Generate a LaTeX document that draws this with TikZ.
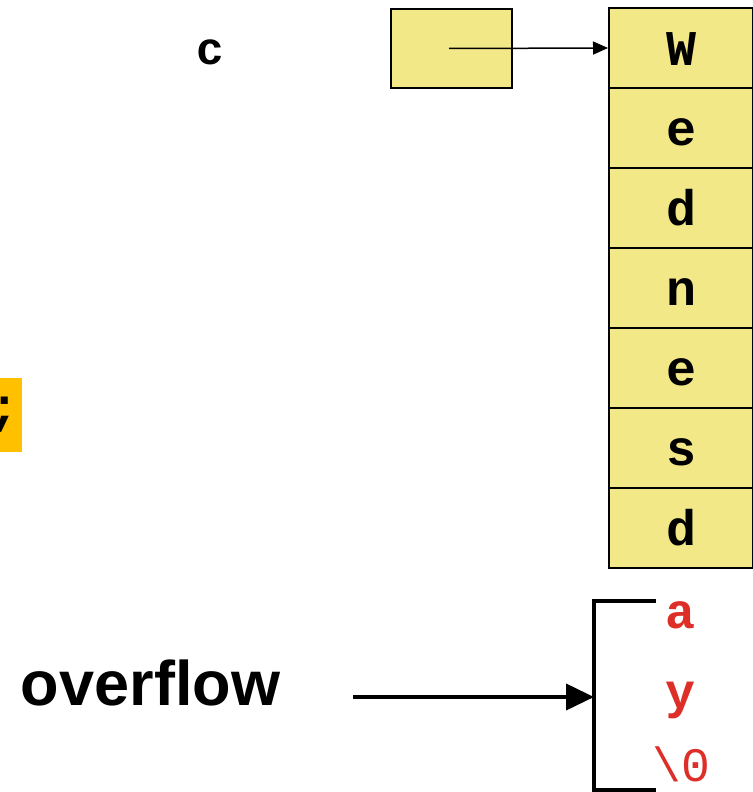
\documentclass[tikz,border=0pt]{standalone}
\usepackage{fontspec}
\setmainfont{Liberation Sans}
\setmonofont{Liberation Mono}
\usetikzlibrary{arrows.meta}

\def\charsize#1{\fontsize{#1}{#1}\selectfont}
\colorlet{cell fill}{rgb,255:red,243;green,232;blue,135}
\colorlet{spill red}{rgb,255:red,222;green,46;blue,40}
\colorlet{hilite}{rgb,255:red,255;green,192;blue,0}
\tikzset{cell/.style={draw, line width=2pt, fill=cell fill, minimum width=144,
        minimum height=80, inner sep=0pt, text height=35pt, text depth=0pt,
        font=\ttfamily\bfseries\charsize{50}},
    spill/.style={text=spill red, inner sep=0pt, anchor=base,
        font=\ttfamily\bfseries\charsize{50}},
    ptr/.style={draw, line width=2pt, fill=cell fill, minimum width=121,
        minimum height=79, inner sep=0pt}}

\begin{document}
\begin{tikzpicture}[x=1pt, y=-1pt]
     \useasboundingbox (0,0) rectangle (752,792);
     % the string in memory, one char per cell
     \foreach \ch [count=\i] in {W,e,d,n,e,s,d}
         \node[cell] (cell\i) at (681,{80*\i-32}) {\ch};
     % pointer c
     \node[anchor=base, inner sep=0pt, font=\ttfamily\bfseries\charsize{46}] (cname) at (210,65) {c};
     \node[ptr] (cptr) at (451.5,48.5) {};
     \coordinate (cstart) at (449,48.5);
     \draw[line width=1.5pt, -{Triangle[length=15pt, width=13pt]}] (cstart) -- (cell1.west);
     % the semicolon, cut at the left edge
     \node[fill=hilite, minimum width=34, minimum height=74, inner sep=0pt,
           font=\ttfamily\bfseries\charsize{50}] (semi) at (5,415) {;};
     % chars that run past the end
     \node[spill] (spill1) at (680,628) {a};
     \node[spill] (spill2) at (680,708) {y};
     \node[spill, font=\ttfamily\charsize{48}] (spill3) at (681,781) {\textbackslash 0};
     \coordinate (brtop) at (656,601);
     \coordinate (brbot) at (656,790);
     \coordinate (brmid) at (594,697);
     \draw[line width=4pt] (brtop) -- (594,601) -- (594,790) -- (brbot);
     % overflow label and its arrow
     \node[anchor=base, inner sep=0pt, font=\bfseries\charsize{63}] (oflow) at (150.5,705) {overflow};
     \coordinate (ostart) at (353,697);
     \draw[line width=4pt, -{Triangle[length=28pt, width=26pt]}] (ostart) -- (brmid);
 \end{tikzpicture}
\end{document}
